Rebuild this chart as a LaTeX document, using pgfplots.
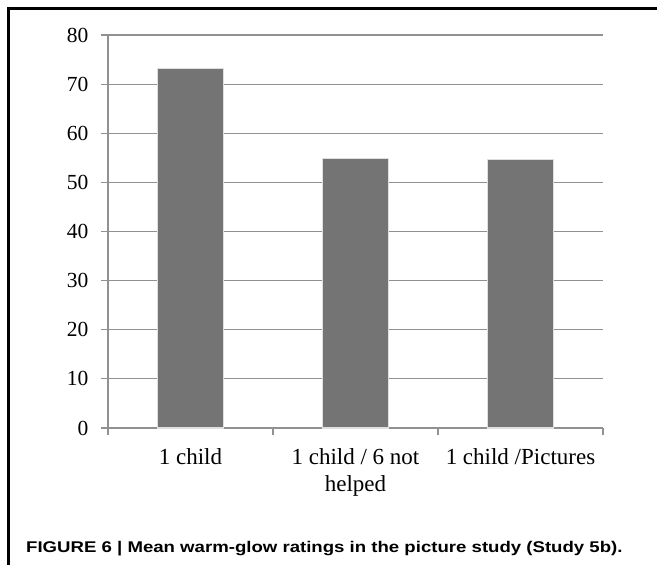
\documentclass[border=0pt]{standalone}
\usepackage{fontspec}
\setmainfont{Liberation Serif}
\newfontfamily\capfont{Liberation Sans}
\usepackage{pgfplots}
\pgfplotsset{compat=1.18}
\definecolor{barfill}{RGB}{116,116,116}
\definecolor{gridc}{RGB}{145,145,145}
\begin{document}
\begin{tikzpicture}
\useasboundingbox (0,0) rectangle (657bp,-565bp);
% open frame (left and top edges only)
\draw[line width=2.8bp] (8.7bp,-565bp) -- (8.7bp,-8.7bp) -- (657bp,-8.7bp);
\begin{axis}[
    at={(108bp,-428bp)}, anchor=south west,
    scale only axis, width=495bp, height=393bp,
    xmin=0, xmax=3, ymin=0, ymax=80,
    axis x line*=bottom, axis y line*=left,
    axis line style={gridc, line width=1.2bp},
    ytick={0,10,...,80},
    ymajorgrids, grid style={gridc, line width=1.2bp},
    tick align=outside, major tick length=7bp, minor tick length=7bp,
    major y tick style={gridc, line width=1.2bp},
    major x tick style={draw=none},
    minor x tick style={gridc, line width=1.2bp},
    xtick={0.5,1.5,2.5},
    minor xtick={0,1,2,3},
    xticklabels={1 child, {1 child / 6 not\\helped}, 1 child /Pictures},
    xticklabel style={align=center, font=\fontsize{23bp}{27bp}\selectfont, yshift=-10bp},
    yticklabel style={font=\fontsize{21.5bp}{24bp}\selectfont, xshift=-9bp},
    /pgf/number format/assume math mode=true,
]
\addplot[ybar, bar width=66bp, fill=barfill, draw=gray!25, line width=1.2bp]
    coordinates {(0.5,73.2) (1.5,54.9) (2.5,54.6)};
\end{axis}
\node[anchor=base west, inner sep=0pt, font=\capfont\bfseries\fontsize{15.5bp}{18bp}\selectfont]
    at (26bp,-552bp) {\scalebox{1.2}[1]{FIGURE 6 | Mean warm-glow ratings in the picture study (Study 5b).}};
\end{tikzpicture}
\end{document}
